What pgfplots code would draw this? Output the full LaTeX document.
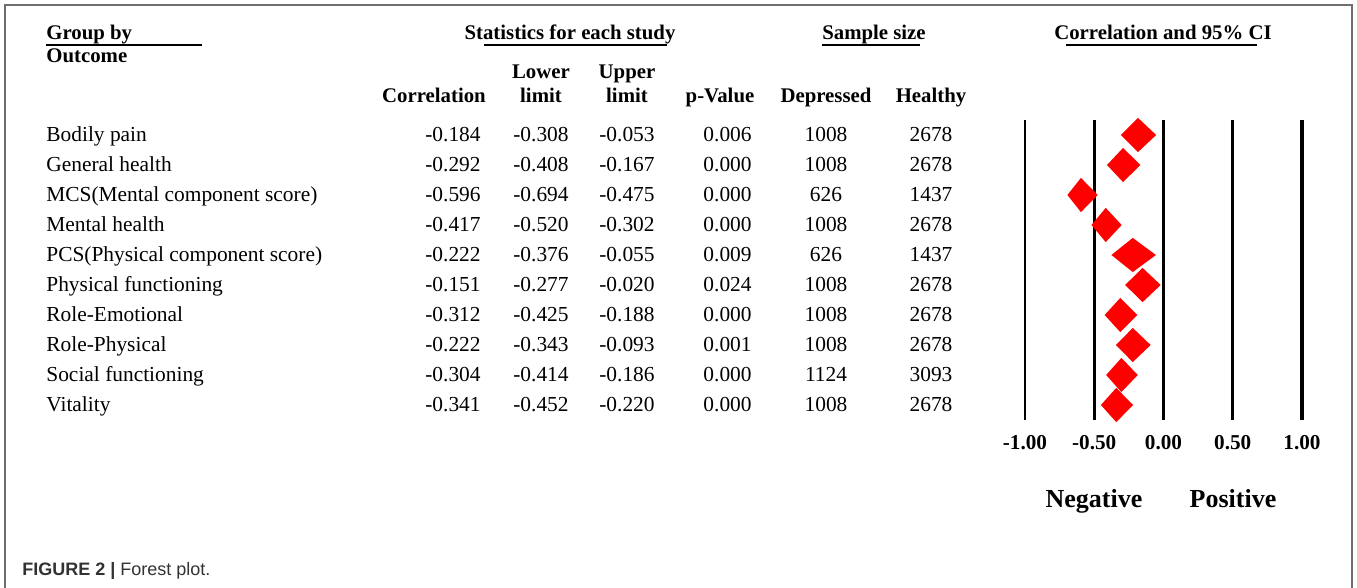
\documentclass[border=0pt]{standalone}
\usepackage{pgfplots}
\pgfplotsset{compat=1.18}
\usepackage{fontspec}
\setmainfont{Liberation Serif}
\newfontfamily\capfont{Liberation Sans}
\definecolor{dia}{RGB}{255,0,0}
\definecolor{framec}{RGB}{110,110,110}
\definecolor{capc}{RGB}{50,50,50}
\begin{document}
\begin{tikzpicture}[x=0.5pt,y=0.5pt]
\useasboundingbox (0,0) rectangle (1357,-588);
\draw[framec, line width=1pt] (5,-588) -- (5,-5) -- (1352,-5) -- (1352,-588);
% headers
\tikzset{hd/.style={inner sep=0pt, font=\fontsize{10.4}{12}\selectfont\bfseries},
         tx/.style={inner sep=0pt, font=\fontsize{10.7}{12}\selectfont}}
\node[hd, anchor=base west] at (46,-40) {Group by};
\draw[line width=1pt] (46,-45) -- (202,-45);
\node[hd, anchor=base west] at (46,-63) {Outcome};
\node[hd, anchor=base] at (570,-40) {Statistics for each study};
\draw[line width=1pt] (484,-45) -- (667,-45);
\node[hd, anchor=base] at (874,-40) {Sample size};
\draw[line width=1pt] (822,-45) -- (920,-45);
\node[hd, anchor=base] at (1163,-40) {Correlation and 95\% CI};
\draw[line width=1pt] (1066,-45) -- (1257,-45);
\node[hd, anchor=base] at (541,-79) {Lower};
\node[hd, anchor=base] at (627,-79) {Upper};
\node[hd, anchor=base] at (434,-103) {Correlation};
\node[hd, anchor=base] at (541,-103) {limit};
\node[hd, anchor=base] at (627,-103) {limit};
\node[hd, anchor=base] at (720,-103) {p-Value};
\node[hd, anchor=base] at (826,-103) {Depressed};
\node[hd, anchor=base] at (931,-103) {Healthy};
% table rows
\foreach \i/\name/\r/\lo/\hi/\p/\d/\h in {
1/Bodily pain/-0.184/-0.308/-0.053/0.006/1008/2678,
2/General health/-0.292/-0.408/-0.167/0.000/1008/2678,
3/MCS(Mental component score)/-0.596/-0.694/-0.475/0.000/626/1437,
4/Mental health/-0.417/-0.520/-0.302/0.000/1008/2678,
5/PCS(Physical component score)/-0.222/-0.376/-0.055/0.009/626/1437,
6/Physical functioning/-0.151/-0.277/-0.020/0.024/1008/2678,
7/Role-Emotional/-0.312/-0.425/-0.188/0.000/1008/2678,
8/Role-Physical/-0.222/-0.343/-0.093/0.001/1008/2678,
9/Social functioning/-0.304/-0.414/-0.186/0.000/1124/3093,
10/Vitality/-0.341/-0.452/-0.220/0.000/1008/2678}{
\pgfmathsetmacro\yy{-112-30*\i}
\node[tx, anchor=base west] at (46,\yy) {\name};
\node[tx, anchor=base east] at (481,\yy) {\r};
\node[tx, anchor=base east] at (569,\yy) {\lo};
\node[tx, anchor=base east] at (655,\yy) {\hi};
\node[tx, anchor=base east] at (752,\yy) {\p};
\node[tx, anchor=base] at (826,\yy) {\d};
\node[tx, anchor=base] at (931,\yy) {\h};
}
\node[inner sep=0pt, anchor=base, font=\fontsize{13}{15}\selectfont\bfseries] at (1094,-508) {Negative};
\node[inner sep=0pt, anchor=base, font=\fontsize{13}{15}\selectfont\bfseries] at (1233,-508) {Positive};
\node[inner sep=0pt, anchor=base west, font=\capfont\fontsize{9}{11}\selectfont, text=capc] at (22,-575) {\textbf{FIGURE 2 |} Forest plot.};
\begin{axis}[at={(512.5pt,-210pt)}, anchor=south west, scale only axis,
  width=138.5pt, height=150pt,
  xmin=-1, xmax=1, ymin=0.5, ymax=10.5, y dir=reverse,
  axis line style={draw=none}, ytick=\empty,
  xtick={-1,-0.5,0,0.5,1}, major tick length=0pt,
  xmajorgrids, grid style={black, line width=1.3pt},
  extra x ticks={1}, extra x tick labels={},
  extra x tick style={grid style={black, line width=1.9pt}},
  xticklabel={\pgfmathprintnumber[fixed,fixed zerofill,precision=2,assume math mode=true]{\tick}},
  xticklabel style={font=\fontsize{10.6}{12}\selectfont\bfseries, yshift=-4pt},
  clip=false]
\addplot[fill=dia, draw=none] coordinates {(-0.308,1) (-0.184,0.43) (-0.053,1) (-0.184,1.57) (-0.308,1)};
\addplot[fill=dia, draw=none] coordinates {(-0.408,2) (-0.292,1.43) (-0.167,2) (-0.292,2.57) (-0.408,2)};
\addplot[fill=dia, draw=none] coordinates {(-0.694,3) (-0.596,2.43) (-0.475,3) (-0.596,3.57) (-0.694,3)};
\addplot[fill=dia, draw=none] coordinates {(-0.520,4) (-0.417,3.43) (-0.302,4) (-0.417,4.57) (-0.520,4)};
\addplot[fill=dia, draw=none] coordinates {(-0.376,5) (-0.222,4.43) (-0.055,5) (-0.222,5.57) (-0.376,5)};
\addplot[fill=dia, draw=none] coordinates {(-0.277,6) (-0.151,5.43) (-0.020,6) (-0.151,6.57) (-0.277,6)};
\addplot[fill=dia, draw=none] coordinates {(-0.425,7) (-0.312,6.43) (-0.188,7) (-0.312,7.57) (-0.425,7)};
\addplot[fill=dia, draw=none] coordinates {(-0.343,8) (-0.222,7.43) (-0.093,8) (-0.222,8.57) (-0.343,8)};
\addplot[fill=dia, draw=none] coordinates {(-0.414,9) (-0.304,8.43) (-0.186,9) (-0.304,9.57) (-0.414,9)};
\addplot[fill=dia, draw=none] coordinates {(-0.452,10) (-0.341,9.43) (-0.220,10) (-0.341,10.57) (-0.452,10)};
\end{axis}
\end{tikzpicture}
\end{document}
